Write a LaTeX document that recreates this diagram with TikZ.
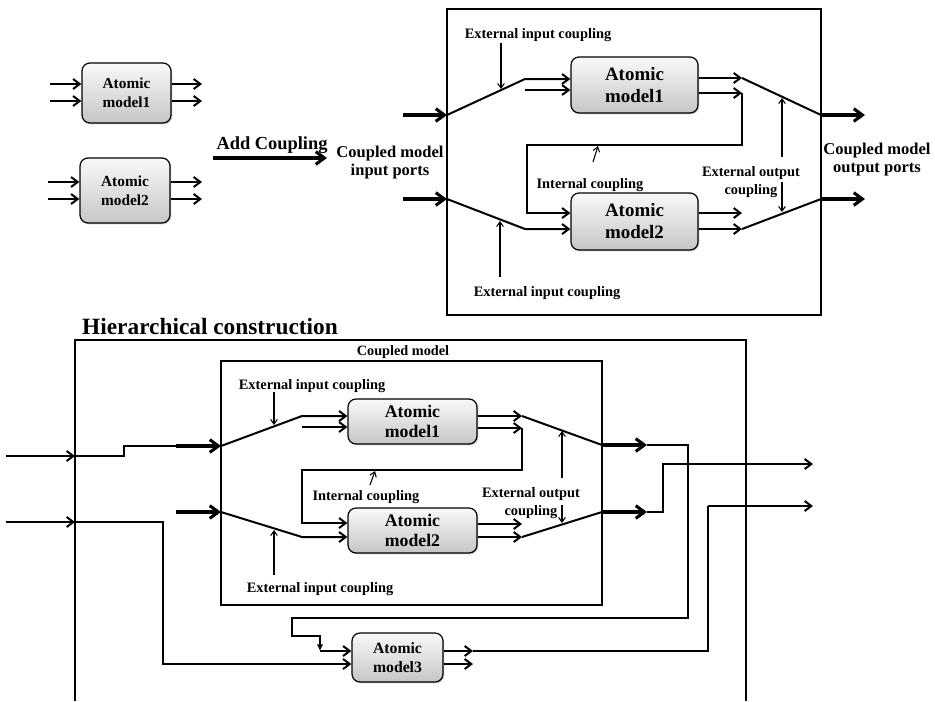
\documentclass[tikz,border=0pt]{standalone}
\usepackage{fontspec}
\setmainfont{Liberation Serif}
\usetikzlibrary{arrows.meta,shadows}

\tikzset{
  wire/.style={line width=1.5pt},
  arr/.style={wire,-{Straight Barb[length=5pt,width=7.5pt]}},
  bold wire/.style={line width=2.3pt},
  boldarr/.style={bold wire,-{Straight Barb[length=6.5pt,width=9.5pt]}},
  ptr/.style={line width=0.8pt,-{Straight Barb[length=3.5pt,width=5pt]}},
  frame/.style={line width=1.6pt},
  model/.style={draw,line width=0.9pt,rounded corners=6pt,top color=gray!5,bottom color=gray!45,
    drop shadow={opacity=0.35,shadow xshift=1pt,shadow yshift=-1pt},inner sep=0pt,align=center},
  lbl/.style={font=\fontsize{10.8}{13.5}\selectfont\bfseries,align=center,inner sep=0pt},
  fsmall/.style={font=\fontsize{11.5}{14}\selectfont\bfseries},
  fbig/.style={font=\fontsize{14.2}{16.5}\selectfont\bfseries},
  fmid/.style={font=\fontsize{13.3}{15.5}\selectfont\bfseries},
  boxsize/.style 2 args={minimum width=#1,minimum height=#2},
}

\begin{document}
\begin{tikzpicture}[x=0.75pt,y=-0.75pt]
\useasboundingbox (0,0) rectangle (935,701);

% ===== two separate atomic models =====
\node[model,fsmall,boxsize={66.75pt}{45pt}] (a1) at (126.5,93) {Atomic\\model1};
\node[model,fsmall,boxsize={67.5pt}{48.75pt}] (a2) at (125,190.5) {Atomic\\model2};
\foreach \n/\ya/\yb/\xi in {a1/84/101/50, a2/182/199/48}{
  \coordinate (\n i1) at (\xi,\ya); \coordinate (\n i2) at (\xi,\yb);
  \coordinate (\n o1) at (202,\ya); \coordinate (\n o2) at (202,\yb);
  \draw[arr] (\n i1) -- (\n i1 -| \n.west);
  \draw[arr] (\n i2) -- (\n i2 -| \n.west);
  \draw[arr] (\n o1 -| \n.east) -- (\n o1);
  \draw[arr] (\n o2 -| \n.east) -- (\n o2);
}

\node[font=\fontsize{13.8}{16}\selectfont\bfseries,inner sep=0pt] (addc) at (272,145) {Add Coupling};
\coordinate (ac0) at (213,158); \coordinate (ac1) at (327,158);
\draw[boldarr] (ac0) -- (ac1);

% ===== coupled model =====
\coordinate (cmnw) at (447,9); \coordinate (cmse) at (821,315);
\draw[frame] (cmnw) rectangle (cmse);
\node[model,fbig,boxsize={95.25pt}{42pt}] (b1) at (634.5,85) {Atomic\\model1};
\node[model,fbig,boxsize={95.25pt}{42.75pt}] (b2) at (634.5,221.5) {Atomic\\model2};

\coordinate (pin1) at (403,115); \coordinate (pin2) at (403,199);
\draw[boldarr] (pin1) -- (pin1 -| cmnw);
\draw[boldarr] (pin2) -- (pin2 -| cmnw);

\coordinate (k1) at (525,79); \coordinate (k2) at (525,90); \coordinate (k3) at (525,229);
\draw[arr] (pin1 -| cmnw) -- (k1) -- (k1 -| b1.west);
\draw[arr] (k2) -- (k2 -| b1.west);
\draw[arr] (pin2 -| cmnw) -- (k3) -- (k3 -| b2.west);

\coordinate (p1) at (742,78); \coordinate (p2) at (742,93);
\draw[arr] (p1 -| b1.east) -- (p1);
\draw[arr] (p2 -| b1.east) -- (p2);
\coordinate (ic) at (527,145); \coordinate (ie) at (527,213);
\draw[arr] (p2) |- (ic) |- (ie -| b2.west);

\coordinate (q1) at (742,213); \coordinate (q2) at (742,229);
\draw[arr] (q1 -| b2.east) -- (q1);
\draw[arr] (q2 -| b2.east) -- (q2);

\coordinate (pout1) at (865,115); \coordinate (pout2) at (865,199);
\draw[wire] (p1) -- (pout1 -| cmse);
\draw[wire] (q2) -- (pout2 -| cmse);
\draw[boldarr] (pout1 -| cmse) -- (pout1);
\draw[boldarr] (pout2 -| cmse) -- (pout2);

\node[lbl] (eic1) at (538,35) {External input coupling};
\coordinate (eic1a) at (501,43); \coordinate (eic1b) at (501,89);
\draw[ptr] (eic1a) -- (eic1b);
\node[lbl] (eic2) at (547,293) {External input coupling};
\coordinate (eic2a) at (500,277); \coordinate (eic2b) at (500,221);
\draw[ptr] (eic2a) -- (eic2b);
\node[lbl] (icl) at (590,185) {Internal coupling};
\coordinate (icla) at (593,162); \coordinate (iclb) at (598,146);
\draw[ptr] (icla) -- (iclb);
\node[lbl] (eoc) at (751,182) {External output\\coupling};
\coordinate (eoca) at (782,157); \coordinate (eocb) at (782,98);
\coordinate (eocc) at (782,182); \coordinate (eocd) at (782,212);
\draw[ptr] (eoca) -- (eocb);
\draw[ptr] (eocc) -- (eocd);

\node[font=\fontsize{12.4}{13.5}\selectfont\bfseries,align=center,inner sep=0pt] (inp) at (390,163) {Coupled model\\input ports};
\node[font=\fontsize{12.4}{13.5}\selectfont\bfseries,align=center,inner sep=0pt] (outp) at (877,160) {Coupled model\\output ports};

% ===== hierarchical construction =====
\node[font=\fontsize{17.5}{20}\selectfont\bfseries,inner sep=0pt] (hc) at (210,327) {Hierarchical construction};
\coordinate (h0) at (75,701); \coordinate (h1) at (75,340);
\coordinate (h2) at (746,340); \coordinate (h3) at (746,701);
\draw[line width=2.2pt] (h0) -- (h1) -- (h2) -- (h3);

\coordinate (inw) at (221,361); \coordinate (ise) at (602,605);
\draw[line width=2.2pt] (inw) rectangle (ise);
\node[lbl,font=\fontsize{10.7}{12}\selectfont\bfseries] (cml) at (403,352) {Coupled model};
\node[model,fmid,boxsize={96.75pt}{33.75pt}] (c1) at (412.5,421.5) {Atomic\\model1};
\node[model,fmid,boxsize={96.75pt}{33.75pt}] (c2) at (412.5,530.5) {Atomic\\model2};
\node[model,font=\fontsize{11.8}{14.5}\selectfont\bfseries,boxsize={68.25pt}{36.75pt}] (d3) at (397.5,657.5) {Atomic\\model3};

% input ports of the inner coupled model
\coordinate (s1) at (176,446); \coordinate (s2) at (176,512);
\coordinate (st) at (124,446);
\coordinate (x1) at (6,456); \coordinate (hx1) at (75,456);
\coordinate (x2) at (6,522); \coordinate (hx2) at (75,522);
\draw[arr] (x1) -- (hx1);
\draw[arr] (x2) -- (hx2);
\draw[wire] (hx1) -| (st) -- (s1);
\draw[boldarr] (s1) -- (s1 -| inw);
\draw[boldarr] (s2) -- (s2 -| inw);
\coordinate (dn) at (163,664);
\draw[arr] (hx2) -| (dn) -- (dn -| d3.west);

% couplings inside the inner coupled model
\coordinate (j1) at (302,416); \coordinate (j2) at (302,427); \coordinate (j3) at (302,537);
\draw[arr] (s1 -| inw) -- (j1) -- (j1 -| c1.west);
\draw[arr] (j2) -- (j2 -| c1.west);
\draw[arr] (s2 -| inw) -- (j3) -- (j3 -| c2.west);
\coordinate (r1) at (522,416); \coordinate (r2) at (522,428);
\draw[arr] (r1 -| c1.east) -- (r1);
\draw[arr] (r2 -| c1.east) -- (r2);
\coordinate (jc) at (302,470); \coordinate (je) at (302,523);
\draw[arr] (r2) |- (jc) |- (je -| c2.west);
\coordinate (u1) at (522,524); \coordinate (u2) at (522,537);
\draw[arr] (u1 -| c2.east) -- (u1);
\draw[arr] (u2 -| c2.east) -- (u2);
\coordinate (co1) at (602,445); \coordinate (co2) at (602,512);
\draw[wire] (r1) -- (co1);
\draw[wire] (u2) -- (co2);
\coordinate (v1) at (647,445); \coordinate (v2) at (647,512);
\draw[boldarr] (co1) -- (v1);
\draw[boldarr] (co2) -- (v2);

% routing to atomic model3 and to the outputs
\coordinate (w1) at (688,618); \coordinate (w2) at (292,636); \coordinate (w3) at (320,651);
\draw[wire,-{Latex[length=5pt,width=5pt]}] (v1) -| (w1) -| (w2) -| (w3);
\draw[arr] (w3) -- (w3 -| d3.west);
\coordinate (y1) at (663,464); \coordinate (y2) at (813,464);
\draw[arr] (v2) -| (y1) -- (y2);
\coordinate (z1) at (473,651); \coordinate (z2) at (473,664);
\draw[arr] (z1 -| d3.east) -- (z1);
\draw[arr] (z2 -| d3.east) -- (z2);
\coordinate (z3) at (708,506); \coordinate (z4) at (813,506);
\draw[wire,line width=2pt] (z1) -| (z3);
\draw[arr] (z3) -- (z4);

% coupling labels of the inner coupled model
\node[lbl] (eic3) at (312,386) {External input coupling};
\coordinate (eic3a) at (274,392); \coordinate (eic3b) at (274,425);
\draw[ptr] (eic3a) -- (eic3b);
\node[lbl] (eic4) at (320,589) {External input coupling};
\coordinate (eic4a) at (274,575); \coordinate (eic4b) at (274,530);
\draw[ptr] (eic4a) -- (eic4b);
\node[lbl] (icl2) at (366,497) {Internal coupling};
\coordinate (icl2a) at (370,485); \coordinate (icl2b) at (375,471);
\draw[ptr] (icl2a) -- (icl2b);
\node[lbl] (eoc2) at (531,503) {External output\\coupling};
\coordinate (eoc2a) at (562,478); \coordinate (eoc2b) at (562,431);
\coordinate (eoc2c) at (562,505); \coordinate (eoc2d) at (562,523);
\draw[ptr] (eoc2a) -- (eoc2b);
\draw[ptr] (eoc2c) -- (eoc2d);

\end{tikzpicture}
\end{document}
